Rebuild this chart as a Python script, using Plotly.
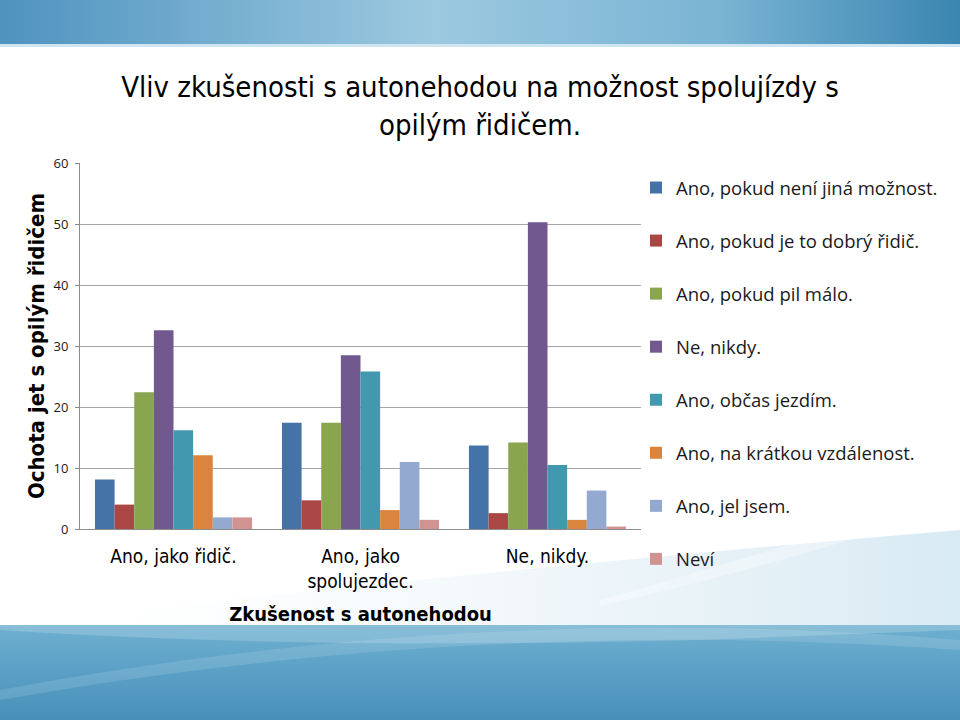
import base64
import plotly.graph_objects as go

categories = ["Ano, jako řidič.", "Ano, jako<br>spolujezdec.", "Ne, nikdy."]
series_names = [
    "Ano, pokud není jiná možnost.",
    "Ano, pokud je to dobrý řidič.",
    "Ano, pokud pil málo.",
    "Ne, nikdy.",
    "Ano, občas jezdím.",
    "Ano, na krátkou vzdálenost.",
    "Ano, jel jsem.",
    "Neví",
]
val_pokud_neni = [8.1, 17.4, 13.7]
val_dobry_ridic = [4.0, 4.7, 2.6]
val_pil_malo = [22.4, 17.4, 14.2]
val_ne_nikdy = [32.6, 28.5, 50.3]
val_obcas = [16.2, 25.8, 10.5]
val_kratkou = [12.1, 3.1, 1.5]
val_jel_jsem = [1.9, 11.0, 6.3]
val_nevi = [1.9, 1.5, 0.4]
series_values = [val_pokud_neni, val_dobry_ridic, val_pil_malo, val_ne_nikdy,
                 val_obcas, val_kratkou, val_jel_jsem, val_nevi]
colors = ["#4572A7", "#AA4643", "#89A54E", "#71588F", "#4198AF", "#DB843D", "#93A9CF", "#D19392"]
y_ticks = [0, 10, 20, 30, 40, 50, 60]

FONT = "DejaVu Sans Condensed, Roboto, sans-serif"
LFONT = "Open Sans, Roboto, sans-serif"

fig = go.Figure()
for i, (name, vals) in enumerate(zip(series_names, series_values)):
    fig.add_trace(go.Bar(x=categories, y=vals, name=name, marker_color=colors[i],
                         marker_line_width=0, legendgroup=f"g{i}"))

svg = """<svg xmlns='http://www.w3.org/2000/svg' width='960' height='720' viewBox='0 0 960 720' preserveAspectRatio='none'>
<defs>
<linearGradient id='t' x1='0' y1='0' x2='1' y2='0'>
<stop offset='0' stop-color='#4f93bf'/><stop offset='0.45' stop-color='#9cc9e0'/><stop offset='0.75' stop-color='#7ab4d3'/><stop offset='1' stop-color='#3a86b1'/></linearGradient>
<linearGradient id='b' x1='0' y1='0' x2='0' y2='1'>
<stop offset='0' stop-color='#6fb0d0'/><stop offset='0.5' stop-color='#5aa0c6'/><stop offset='1' stop-color='#4890b9'/></linearGradient>
<linearGradient id='s' x1='0' y1='0' x2='1' y2='0'>
<stop offset='0' stop-color='#ffffff' stop-opacity='0'/><stop offset='0.6' stop-color='#e2eff6' stop-opacity='0.6'/><stop offset='1' stop-color='#cfe5f0' stop-opacity='0.8'/></linearGradient>
</defs>
<rect x='0' y='0' width='960' height='46' fill='url(#t)'/>
<rect x='0' y='44' width='960' height='3' fill='#cfe6f2'/>
<path d='M0 625 Q480 570 960 530 L960 625 Z' fill='url(#s)'/>
<path d='M600 600 Q780 550 960 490 L960 505 Q780 565 600 606 Z' fill='#ffffff' opacity='0.35'/>
<rect x='0' y='625' width='960' height='95' fill='url(#b)'/>
<path d='M0 690 Q480 600 960 640 L960 650 Q480 615 0 700 Z' fill='#ffffff' opacity='0.12'/>
<path d='M0 630 Q300 650 700 640 L960 630 L960 625 L0 625 Z' fill='#ffffff' opacity='0.18'/>
</svg>"""
src = "data:image/svg+xml;base64," + base64.b64encode(svg.encode()).decode()

L, R, T, B = 80, 641, 163, 529
pw, ph = R - L, B - T
fig.add_layout_image(dict(source=src, xref="paper", yref="paper",
                          x=-L / pw, y=B / ph, sizex=960 / pw, sizey=720 / ph,
                          xanchor="left", yanchor="top", sizing="stretch", layer="below"))

fig.update_layout(
    width=960, height=720,
    margin=dict(l=L, r=960 - R, t=T, b=720 - B, pad=0),
    paper_bgcolor="white", plot_bgcolor="rgba(0,0,0,0)",
    barmode="group", bargap=0.16, bargroupgap=0,
    font=dict(family=LFONT, color="#000000"),
    title=dict(text="Vliv zkušenosti s autonehodou na možnost spolujízdy s<br>opilým řidičem.",
               x=0.5, xref="container", xanchor="center", y=1 - 97 / 720, yanchor="top", yref="container",
               font=dict(size=29, family=FONT, color="#000000")),
    legend=dict(x=(636 - L) / pw, xref="paper", xanchor="left", y=(B - 169) / ph, yref="paper",
                yanchor="top", tracegroupgap=26, font=dict(size=18.5, color="#1a1a1a", family=LFONT),
                bgcolor="rgba(0,0,0,0)", itemwidth=30, maxheight=600),
    xaxis=dict(showline=True, linecolor="#8c8c8c", linewidth=1, showgrid=False, automargin=False,
               tickfont=dict(size=19, color="#000000", family=FONT), ticks="", ticklabelstandoff=10,
               title=dict(text="<b>Zkušenost s autonehodou</b>", font=dict(size=20, family=FONT), standoff=16)),
    yaxis=dict(range=[0, 60], tickvals=y_ticks, showline=True, linecolor="#8c8c8c", linewidth=1,
               gridcolor="#a6a6a6", gridwidth=1, ticks="outside", ticklen=4, tickcolor="#8c8c8c",
               tickfont=dict(size=13, color="#1a1a1a"), zeroline=False, automargin=False,
               ticklabelstandoff=4,
               title=dict(text="<b>Ochota jet s opilým řidičem</b>", font=dict(size=22, family=FONT), standoff=2)),
)

fig.write_html("out.html", post_script="document.body.style.margin='0';",
               config={"displayModeBar": False})
